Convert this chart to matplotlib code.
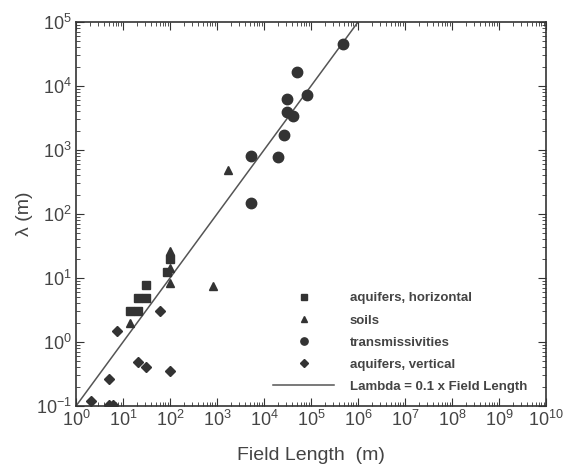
import matplotlib

matplotlib.use("Agg")
import matplotlib.pyplot as plt
import numpy as np
from matplotlib.ticker import LogLocator, NullFormatter

# values (field length in m, lambda in m)
aq_h_x = [14, 21, 21, 31, 31, 85, 100]
aq_h_y = [3.0, 3.0, 4.9, 4.9, 7.8, 12.6, 19.5]

soils_x = [14, 100, 100, 100, 810, 1740]
soils_y = [2.0, 26, 14.5, 8.3, 7.5, 490]

trans_x = [4.9e5, 5.1e4, 8.1e4, 3.1e4, 3.1e4, 4.1e4, 2.6e4, 5.2e3, 2.0e4, 5.2e3]
trans_y = [4.5e4, 1.66e4, 7.2e3, 6.2e3, 3.9e3, 3.4e3, 1.74e3, 810, 790, 148]

aq_v_x = [7.3, 61, 21, 31, 100, 5.1, 2.06, 5.1, 6.0]
aq_v_y = [1.5, 3.0, 0.49, 0.40, 0.35, 0.26, 0.12, 0.102, 0.102]

line_x = [1, 1e10]
ratio = 0.1

plt.rcParams["font.family"] = ["Liberation Sans", "DejaVu Sans"]
ink = "#333333"

fig = plt.figure(figsize=(5.68, 4.75), dpi=100)
ax = fig.add_axes([76 / 568, 69 / 475, 470 / 568, 384 / 475])

ax.plot(line_x, np.array(line_x) * ratio, color="#555555", lw=1.1,
        label="Lambda = 0.1 x Field Length", zorder=2)
ax.plot(aq_h_x, aq_h_y, "s", color=ink, ms=5.5, ls="none", label="aquifers, horizontal", zorder=3)
ax.plot(soils_x, soils_y, "^", color=ink, ms=5.5, ls="none", label="soils", zorder=3)
ax.plot(trans_x, trans_y, "o", color=ink, ms=7.5, ls="none", label="transmissivities", zorder=3)
ax.plot(aq_v_x, aq_v_y, "D", color=ink, ms=5.5, ls="none", label="aquifers, vertical", zorder=3)

ax.set_xscale("log")
ax.set_yscale("log")
ax.set_xlim(1, 1e10)
ax.set_ylim(0.1, 1e5)

ax.xaxis.set_major_locator(LogLocator(base=10, numticks=20))
ax.xaxis.set_minor_locator(LogLocator(base=10, subs=np.arange(2, 10), numticks=200))
ax.xaxis.set_minor_formatter(NullFormatter())
ax.yaxis.set_major_locator(LogLocator(base=10, numticks=20))
ax.yaxis.set_minor_locator(LogLocator(base=10, subs=np.arange(2, 10), numticks=200))
ax.yaxis.set_minor_formatter(NullFormatter())

ax.tick_params(which="both", direction="in", top=True, right=True, colors=ink)
ax.tick_params(which="major", length=6, labelsize=13, labelcolor="#444444", pad=3)
ax.tick_params(which="minor", length=3)
for s in ax.spines.values():
    s.set_color(ink)
    s.set_linewidth(1.2)

ax.set_xlabel("Field Length  (m)", fontsize=14, color="#444444", labelpad=12)
ax.set_ylabel("λ (m)", fontsize=14, color="#444444", labelpad=2)

handles, labels = ax.get_legend_handles_labels()
order = [1, 2, 3, 4, 0]
leg = ax.legend([handles[i] for i in order], [labels[i] for i in order],
                loc="lower right", bbox_to_anchor=(0.985, 0.003), frameon=False,
                markerscale=0.7, handlelength=4.6, handletextpad=1.2, labelspacing=0.75,
                prop={"weight": "bold", "size": 9.5})
for t in leg.get_texts():
    t.set_color("#444444")

fig.savefig("out.png", dpi=100)
